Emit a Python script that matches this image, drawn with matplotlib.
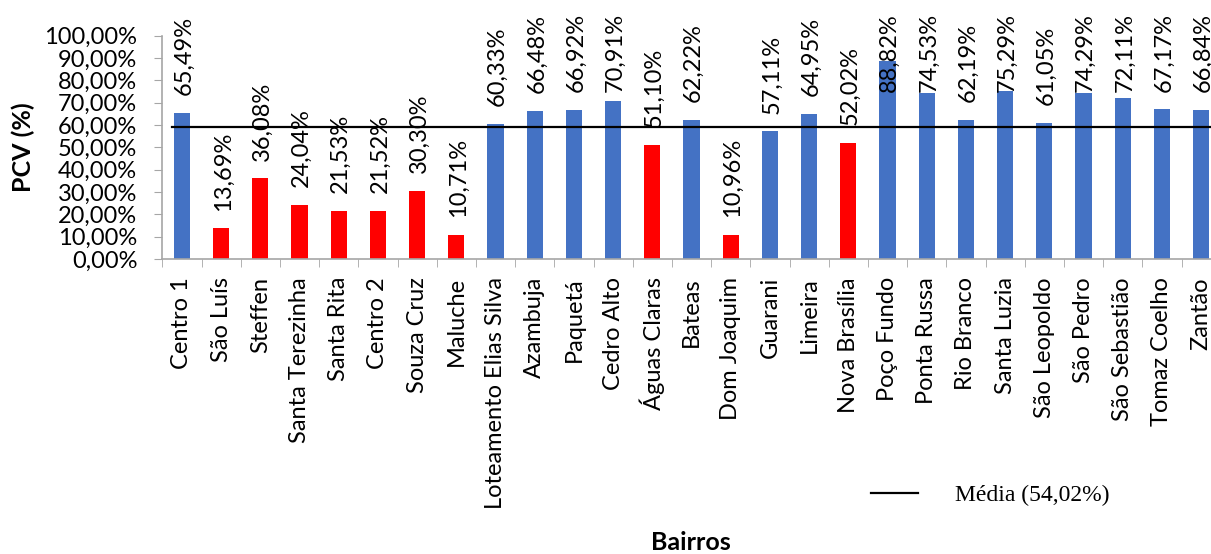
import matplotlib
matplotlib.use("Agg")
import matplotlib.pyplot as plt
from matplotlib.ticker import FuncFormatter, FixedLocator

# dados
bairros = [
    "Centro 1", "São Luís", "Steffen", "Santa Terezinha", "Santa Rita",
    "Centro 2", "Souza Cruz", "Maluche", "Loteamento Elias Silva", "Azambuja",
    "Paquetá", "Cedro Alto", "Águas Claras", "Bateas", "Dom Joaquim",
    "Guarani", "Limeira", "Nova Brasília", "Poço Fundo", "Ponta Russa",
    "Rio Branco", "Santa Luzia", "São Leopoldo", "São Pedro", "São Sebastião",
    "Tomaz Coelho", "Zantão",
]
pcv = [
    65.49, 13.69, 36.08, 24.04, 21.53,
    21.52, 30.30, 10.71, 60.33, 66.48,
    66.92, 70.91, 51.10, 62.22, 10.96,
    57.11, 64.95, 52.02, 88.82, 74.53,
    62.19, 75.29, 61.05, 74.29, 72.11,
    67.17, 66.84,
]
media_rotulo = 54.02   # valor citado na legenda
media_linha = 59.1     # posição em que a linha aparece no gráfico

AZUL = "#4472C4"
VERMELHO = "#FF0000"
CINZA = "#A6A6A6"

W, H = 1211, 554
fig = plt.figure(figsize=(W / 100, H / 100), dpi=100)

# eixo um pouco mais largo que a figura (a última barra é cortada no original)
x0, x1, ytop, ybot = 162.3, 1220.7, 35.7, 259.0
ax = fig.add_axes([x0 / W, 1 - ybot / H, (x1 - x0) / W, (ybot - ytop) / H])

fonte = "Lato"
tam = 17
cores = [VERMELHO if v < media_rotulo else AZUL for v in pcv]
pos = list(range(len(bairros)))
ax.bar(pos, pcv, width=0.41, color=cores, zorder=2)

ax.plot([-0.24, len(bairros) - 0.5], [media_linha, media_linha],
        color="black", lw=1.6, zorder=3, label=f"Média ({media_rotulo:.2f}%)".replace(".", ","))

ax.set_xlim(-0.5, len(bairros) - 0.5)
ax.set_ylim(0, 100)

# rótulos de valor (empurrados para baixo quando não cabem no topo)
for i, v in enumerate(pcv):
    base = min(v + 8.0, 74.8)
    ax.text(i + 0.05, base, f"{v:.2f}%".replace(".", ","), rotation=90,
            ha="center", va="bottom", fontsize=tam, family=fonte,
            clip_on=False, zorder=4)

ax.yaxis.set_major_locator(FixedLocator(range(0, 101, 10)))
ax.yaxis.set_major_formatter(FuncFormatter(lambda v, p: f"{v:.2f}%".replace(".", ",")))
ax.tick_params(axis="y", length=6, color=CINZA, pad=12, labelsize=tam)
for lab in ax.get_yticklabels():
    lab.set_family(fonte)

ax.set_xticks(pos)
ax.set_xticklabels(bairros, rotation=90, fontsize=tam, family=fonte)
ax.tick_params(axis="x", length=0, pad=13)
ax.set_xticks([p - 0.5 for p in pos] + [len(bairros) - 0.5], minor=True)
ax.tick_params(axis="x", which="minor", length=6, color=CINZA)

for s in ["top", "right"]:
    ax.spines[s].set_visible(False)
for s in ["left", "bottom"]:
    ax.spines[s].set_color(CINZA)
    ax.spines[s].set_linewidth(1.2)

fig.text(23 / W, 1 - 147 / H, "PCV (%)", rotation=90, ha="center", va="center",
         fontsize=18, fontweight="bold", family=fonte)
fig.text(691 / W, 1 - 543 / H, "Bairros", ha="center", va="center",
         fontsize=18, fontweight="bold", family=fonte)

ax.legend(loc="center left", bbox_to_anchor=(871 / W, 1 - 495 / H),
          bbox_transform=fig.transFigure, frameon=False, borderpad=0,
          borderaxespad=0, handlelength=2.0, handletextpad=1.55,
          prop={"family": "Liberation Serif", "size": 17})

fig.savefig("out.png", dpi=100)
